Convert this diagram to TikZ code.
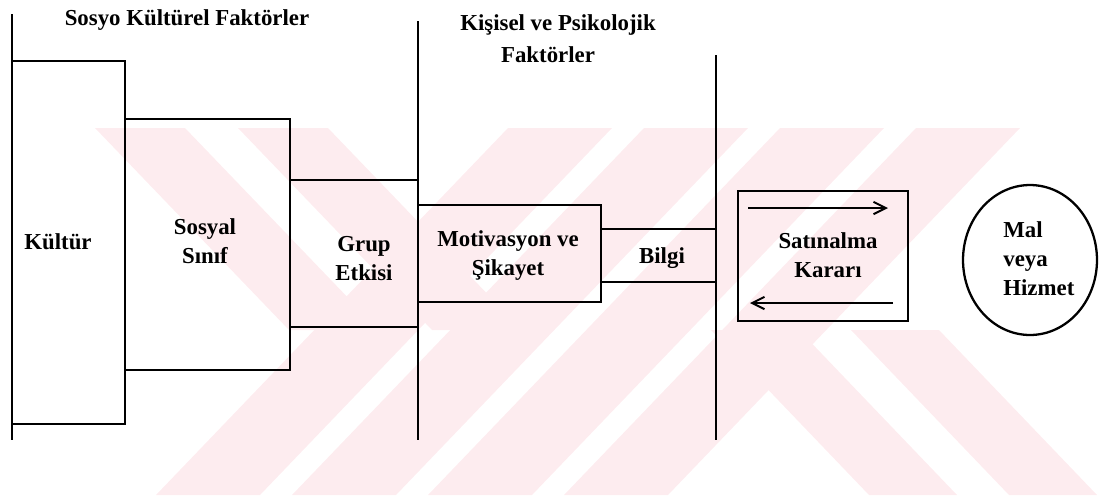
\documentclass[tikz,border=0pt]{standalone}
\usepackage{fontspec}
\setmainfont{Liberation Serif}
\usetikzlibrary{arrows.meta,fit,shapes.geometric}
\definecolor{wm}{RGB}{253,236,239}
\tikzset{
  box/.style={draw=black, line width=1.3pt, inner sep=0pt},
  divider/.style={draw=black, line width=1.4pt},
  lbl/.style={font=\fontsize{13}{16.5}\selectfont\bfseries, align=center, inner sep=0pt},
  flow/.style={draw=black, line width=1.1pt, -{Straight Barb[length=7pt,width=7pt]}},
  band/.style={fill=wm, draw=none}
}
\begin{document}
\begin{tikzpicture}[x=0.02cm,y=-0.02cm]
\useasboundingbox (0,0) rectangle (1099,495);
% watermark bands
\foreach \t in {508,644,780,916} {
  \fill[band] (\t,128) -- (\t+104,128) -- (\t-248,495) -- (\t-352,495) -- cycle;
}
\foreach \t in {95,238} {
  \fill[band] (\t,128) -- (\t+90,128) -- (\t+284,330) -- (\t+194,330) -- cycle;
}
\foreach \b in {869,1009} {
  \fill[band] (\b-158,330) -- (\b-70,330) -- (\b+88,495) -- (\b,495) -- cycle;
}
% dividers
\coordinate (l1t) at (12,14);  \coordinate (l1b) at (12,440);
\coordinate (l2t) at (418,21); \coordinate (l2b) at (418,440);
\coordinate (l3t) at (716,55); \coordinate (l3b) at (716,440);
\draw[divider] (l1t) -- (l1b);
\draw[divider] (l2t) -- (l2b);
\draw[divider] (l3t) -- (l3b);
% boxes
\node[box, fit={(12,61) (125,424)}] (kulturbox) {};
\node[box, fit={(125,119) (290,370)}] (sosyalbox) {};
\node[box, fit={(290,180) (418,327)}] (grupbox) {};
\node[box, fit={(418,205) (601,302)}] (motivbox) {};
\node[box, fit={(601,229) (716,282)}] (bilgibox) {};
\node[box, fit={(738,191) (908,321)}] (satinbox) {};
\node[box, ellipse, minimum width=2.68cm, minimum height=3.0cm] (malbox) at (1030,260) {};
% arrows in decision box
\coordinate (a1s) at (748,208); \coordinate (a1e) at (888,208);
\coordinate (a2s) at (893,303); \coordinate (a2e) at (750,303);
\draw[flow] (a1s) -- (a1e);
\draw[flow] (a2s) -- (a2e);
% labels
\node[lbl] (title1) at (187,20) {Sosyo Kültürel Faktörler};
\node[lbl] (title2a) at (558,25) {Kişisel ve Psikolojik};
\node[lbl] (title2b) at (548,55) {Faktörler};
\node[lbl] (kultur) at (58,242) {Kültür};
\node[lbl] (sosyal) at (205,241) {Sosyal\\Sınıf};
\node[lbl] (grup) at (364,259) {Grup\\Etkisi};
\node[lbl] (motiv) at (508,256) {Motivasyon ve\\Şikayet};
\node[lbl] (bilgi) at (662,258) {Bilgi};
\node[lbl] (satin) at (828,255) {Satınalma\\Kararı};
\node[lbl, align=left, anchor=west] (mal) at (1003,259) {Mal\\veya\\Hizmet};
\end{tikzpicture}
\end{document}
